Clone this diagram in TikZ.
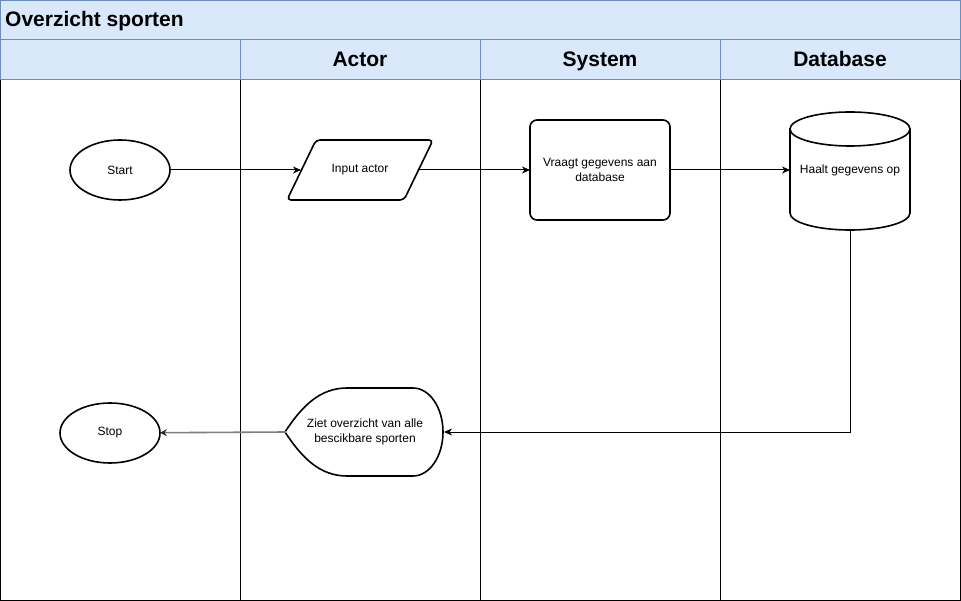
\documentclass[tikz,border=0pt]{standalone}
\usepackage{fontspec}
\setmainfont{Liberation Sans}
\usetikzlibrary{arrows.meta,shapes.geometric}
\definecolor{hdrfill}{HTML}{DAE8FC}
\definecolor{hdrline}{HTML}{6C8EBF}
\definecolor{grayline}{HTML}{7F7F7F}
\tikzset{
  hdrtitle/.style={font=\fontsize{21}{25}\selectfont\bfseries, inner sep=0pt},
  lanetitle/.style={font=\fontsize{21}{25}\selectfont\bfseries, inner sep=0pt},
  boxtext/.style={font=\fontsize{12}{15}\selectfont, align=center, inner sep=0pt, outer sep=0pt},
  shapeline/.style={draw=black, line width=1.6pt, fill=white},
  ovalbox/.style={boxtext, ellipse, shapeline, minimum width=100pt, minimum height=60pt},
  conn/.style={draw=black, line width=1pt, -{Stealth[length=8pt,width=7pt,inset=2.5pt]}},
  grayconn/.style={draw=grayline, line width=1.6pt, -{Stealth[length=7pt,width=7pt,inset=2.5pt,color=black!85]}},
  laneline/.style={draw=black, line width=1pt},
}
\begin{document}
\begin{tikzpicture}[x=1pt,y=-1pt]
\useasboundingbox (0,0) rectangle (961,601);
% header
\fill[hdrfill] (0.5,0.5) rectangle (960,80);
\draw[hdrline, line width=1pt] (0.5,0.5) rectangle (960,80);
\draw[hdrline, line width=1pt] (0.5,40) -- (960,40);
\draw[hdrline, line width=1pt] (240,40) -- (240,80);
\draw[hdrline, line width=1pt] (480,40) -- (480,80);
\draw[hdrline, line width=1pt] (720,40) -- (720,80);
\node[hdrtitle, anchor=base west] (title) at (5,27) {Overzicht sporten};
\node[lanetitle, anchor=base] (lactor) at (360,67) {Actor};
\node[lanetitle, anchor=base] (lsystem) at (600,67) {System};
\node[lanetitle, anchor=base] (ldb) at (840,67) {Database};
% lanes
\draw[laneline] (0.5,80) -- (0.5,600) -- (960,600) -- (960,80);
\draw[laneline] (240,80) -- (240,600);
\draw[laneline] (480,80) -- (480,600);
\draw[laneline] (720,80) -- (720,600);
% start
\node[ovalbox] (start) at (120,170) {Start};
% input parallelogram
\draw[shapeline, rounded corners=4pt] (360,200) -- (287,200) -- (316,140) -- (433,140) -- (404,200) -- cycle;
\node[boxtext, minimum width=118pt, minimum height=60pt] (inp) at (360,170) {Input actor};
% system
\node[boxtext, shapeline, rounded corners=7pt, minimum width=140pt, minimum height=100pt] (sys) at (600,170) {Vraagt gegevens aan\\database};
% database cylinder
\draw[shapeline] (790,129) -- (790,213) arc[start angle=180, end angle=360, x radius=60pt, y radius=17pt] -- (910,129) -- cycle;
\draw[shapeline] (850,129) ellipse[x radius=60pt, y radius=17pt];
\node[boxtext, minimum width=120pt, minimum height=118pt] (db) at (850,170) {Haalt gegevens op};
% display
\draw[shapeline] (285,432) .. controls (302,406) and (320,388) .. (347,388) -- (413,388)
  arc[start angle=90, end angle=-90, x radius=30pt, y radius=44pt]
  -- (347,476) .. controls (320,476) and (302,458) .. (285,432) -- cycle;
\node[boxtext, minimum width=158pt, minimum height=88pt] (disp) at (365,432) {Ziet overzicht van alle\\bescikbare sporten};
% stop
\node[ovalbox] (stop) at (110,433) {Stop};
% connectors
\draw[conn] (start) -- (inp.west);
\draw[conn] (inp.east) -- (sys);
\draw[conn] (sys) -- (db.west);
\draw[conn] (db.south) |- (disp.east);
\draw[grayconn] (disp.west) -- (stop);
\end{tikzpicture}
\end{document}
